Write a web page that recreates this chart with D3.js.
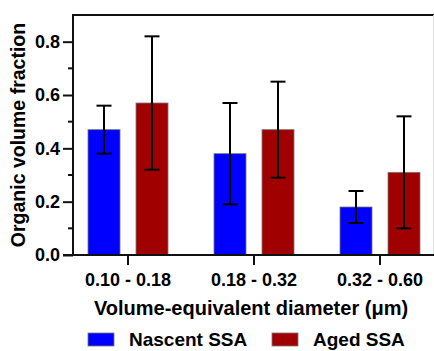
<!DOCTYPE html>
<html>
<head>
<meta charset="utf-8">
<script src="https://cdn.jsdelivr.net/npm/d3@7"></script>
<style>
  body { margin: 0; background: #fff; }
  svg text { font-family: "Liberation Sans", Arial, sans-serif; font-weight: bold; fill: #000; }
</style>
</head>
<body>
<svg id="chart" width="434" height="351"></svg>
<script>
var groups = ["0.10 - 0.18", "0.18 - 0.32", "0.32 - 0.60"];
var series = ["Nascent SSA", "Aged SSA"];
var colors = ["#0000ff", "#a00000"];
var nascent = [0.47, 0.38, 0.18];
var nascentLow = [0.38, 0.19, 0.12];
var nascentHigh = [0.56, 0.57, 0.24];
var aged = [0.57, 0.47, 0.31];
var agedLow = [0.32, 0.29, 0.10];
var agedHigh = [0.82, 0.65, 0.52];
var yMajor = [0, 0.2, 0.4, 0.6, 0.8];
var yMinor = [0.1, 0.3, 0.5, 0.7];

function draw() {
    var svg = d3.select("#chart");
    var left = 73, right = 434, top = 15, bottom = 255;

    var x = d3.scaleBand().domain(groups).range([65, 443]);
    var sub = d3.scalePoint().domain(series).range([-24, 24]);
    var y = d3.scaleLinear().domain([0, 0.9]).range([bottom, top]);
    var barW = 32;

    var rows = [];
    groups.forEach(function (g, i) {
        rows.push({ g: g, s: series[0], v: nascent[i], lo: nascentLow[i], hi: nascentHigh[i], c: colors[0] });
        rows.push({ g: g, s: series[1], v: aged[i], lo: agedLow[i], hi: agedHigh[i], c: colors[1] });
    });
    function cx(d) { return x(d.g) + x.bandwidth() / 2 + sub(d.s); }

    // frame top + faint right edge
    svg.append("line").attr("x1", left).attr("x2", right).attr("y1", top).attr("y2", top)
        .attr("stroke", "#111").attr("stroke-width", 2);
    svg.append("line").attr("x1", 433.5).attr("x2", 433.5).attr("y1", top).attr("y2", bottom)
        .attr("stroke", "#ddd").attr("stroke-width", 1);

    // bars
    svg.append("g").selectAll("rect")
        .data(rows)
        .enter()
        .append("rect")
            .attr("x", function (d) { return cx(d) - barW / 2; })
            .attr("y", function (d) { return y(d.v); })
            .attr("width", barW)
            .attr("height", function (d) { return y(0) - y(d.v); })
            .attr("fill", function (d) { return d.c; })
            .attr("stroke", "#777")
            .attr("stroke-width", 0.8);

    // error bars
    var eb = svg.append("g").attr("stroke", "#000").attr("stroke-width", 2);
    eb.selectAll("line.v").data(rows).enter().append("line")
        .attr("x1", cx).attr("x2", cx)
        .attr("y1", function (d) { return y(d.lo); })
        .attr("y2", function (d) { return y(d.hi); });
    eb.selectAll("line.hi").data(rows).enter().append("line")
        .attr("x1", function (d) { return cx(d) - 7.5; }).attr("x2", function (d) { return cx(d) + 7.5; })
        .attr("y1", function (d) { return y(d.hi); }).attr("y2", function (d) { return y(d.hi); });
    eb.selectAll("line.lo").data(rows).enter().append("line")
        .attr("x1", function (d) { return cx(d) - 7.5; }).attr("x2", function (d) { return cx(d) + 7.5; })
        .attr("y1", function (d) { return y(d.lo); }).attr("y2", function (d) { return y(d.lo); });

    // y axis
    var ya = svg.append("g").attr("transform", "translate(" + left + ",0)")
        .call(d3.axisLeft(y).tickValues(yMajor).tickSize(10).tickPadding(3).tickFormat(d3.format(".1f")));
    ya.select(".domain").remove();
    ya.append("line").attr("x1", 0).attr("x2", 0).attr("y1", top - 1).attr("y2", bottom + 1)
        .attr("stroke", "#111").attr("stroke-width", 2);
    ya.selectAll(".tick line").attr("stroke", "#111").attr("stroke-width", 2);
    ya.selectAll("text").style("font-size", "18px");
    ya.selectAll("line.minor").data(yMinor).enter().append("line")
        .attr("class", "minor")
        .attr("x1", -5).attr("x2", 0)
        .attr("y1", function (d) { return y(d); }).attr("y2", function (d) { return y(d); })
        .attr("stroke", "#111").attr("stroke-width", 2);

    // x axis
    var xa = svg.append("g").attr("transform", "translate(0," + bottom + ")")
        .call(d3.axisBottom(x).tickSize(10).tickPadding(8));
    xa.select(".domain").remove();
    xa.append("line").attr("x1", 63).attr("x2", right).attr("y1", 0).attr("y2", 0)
        .attr("stroke", "#111").attr("stroke-width", 2);
    xa.selectAll(".tick line").attr("stroke", "#111").attr("stroke-width", 2);
    xa.selectAll("text").style("font-size", "18px");

    // titles
    svg.append("text")
        .attr("x", 251).attr("y", 315)
        .attr("text-anchor", "middle")
        .style("font-size", "20px")
        .text("Volume-equivalent diameter (\u03bcm)");
    svg.append("text")
        .attr("transform", "translate(25,135) rotate(-90)")
        .attr("text-anchor", "middle")
        .style("font-size", "19.5px")
        .text("Organic volume fraction");

    // legend
    var legX = [88, 272];
    var leg = svg.append("g").selectAll("g")
        .data(series)
        .enter()
        .append("g")
            .attr("transform", function (d, i) { return "translate(" + legX[i] + ",333)"; });
    leg.append("rect").attr("width", 26).attr("height", 13)
        .attr("fill", function (d, i) { return colors[i]; })
        .attr("stroke", "#777").attr("stroke-width", 0.8);
    leg.append("text").attr("x", 41).attr("y", 13)
        .style("font-size", "19px")
        .text(function (d) { return d; });
}

draw();
</script>
</body>
</html>
